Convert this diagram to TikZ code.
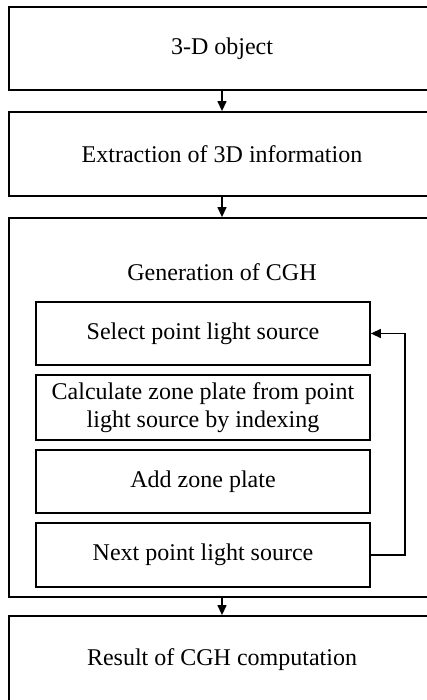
\documentclass[tikz,border=0pt]{standalone}
\usepackage{fontspec}
\setmainfont{Liberation Serif}
\usetikzlibrary{arrows.meta}
\begin{document}
\begin{tikzpicture}[x=1pt,y=-1pt,
  box/.style={draw,line width=1.8pt,minimum width=426pt,inner sep=0pt,font=\fontsize{24}{28}\selectfont},
  stagebox/.style={draw,line width=1.8pt,minimum width=334pt,minimum height=63pt,inner sep=0pt,align=center,font=\fontsize{24}{28}\selectfont},
  flow/.style={-{Triangle[length=10pt,width=9pt]},line width=1.3pt}]
\useasboundingbox (0,0) rectangle (427,700);
% outer stages
\node[box,minimum height=83pt] (obj) at (222,48.5) {3-D object};
\node[box,minimum height=84pt] (extract) at (222,154) {Extraction of 3D information};
\node[box,minimum height=379pt] (cgh) at (222,407.5) {};
\node[font=\fontsize{24}{28}\selectfont] (cghtitle) at (222,272) {Generation of CGH};
\node[box,minimum height=88pt] (result) at (222,660) {Result of CGH computation};
% inner steps
\node[stagebox] (select) at (203,333.5) {Select point light source};
\node[stagebox,minimum height=65pt] (zone) at (203,407.5) {Calculate zone plate from point\\light source by indexing};
\node[stagebox] (add) at (203,481.5) {Add zone plate};
\node[stagebox,minimum height=64pt] (next) at (203,555) {Next point light source};
% connectors
\draw[flow] (obj) -- (extract);
\draw[flow] (extract) -- (cgh);
\draw[flow] (cgh) -- (result);
\draw[flow] (next.east) -- ++(34,0) |- (select.east);
\end{tikzpicture}
\end{document}
